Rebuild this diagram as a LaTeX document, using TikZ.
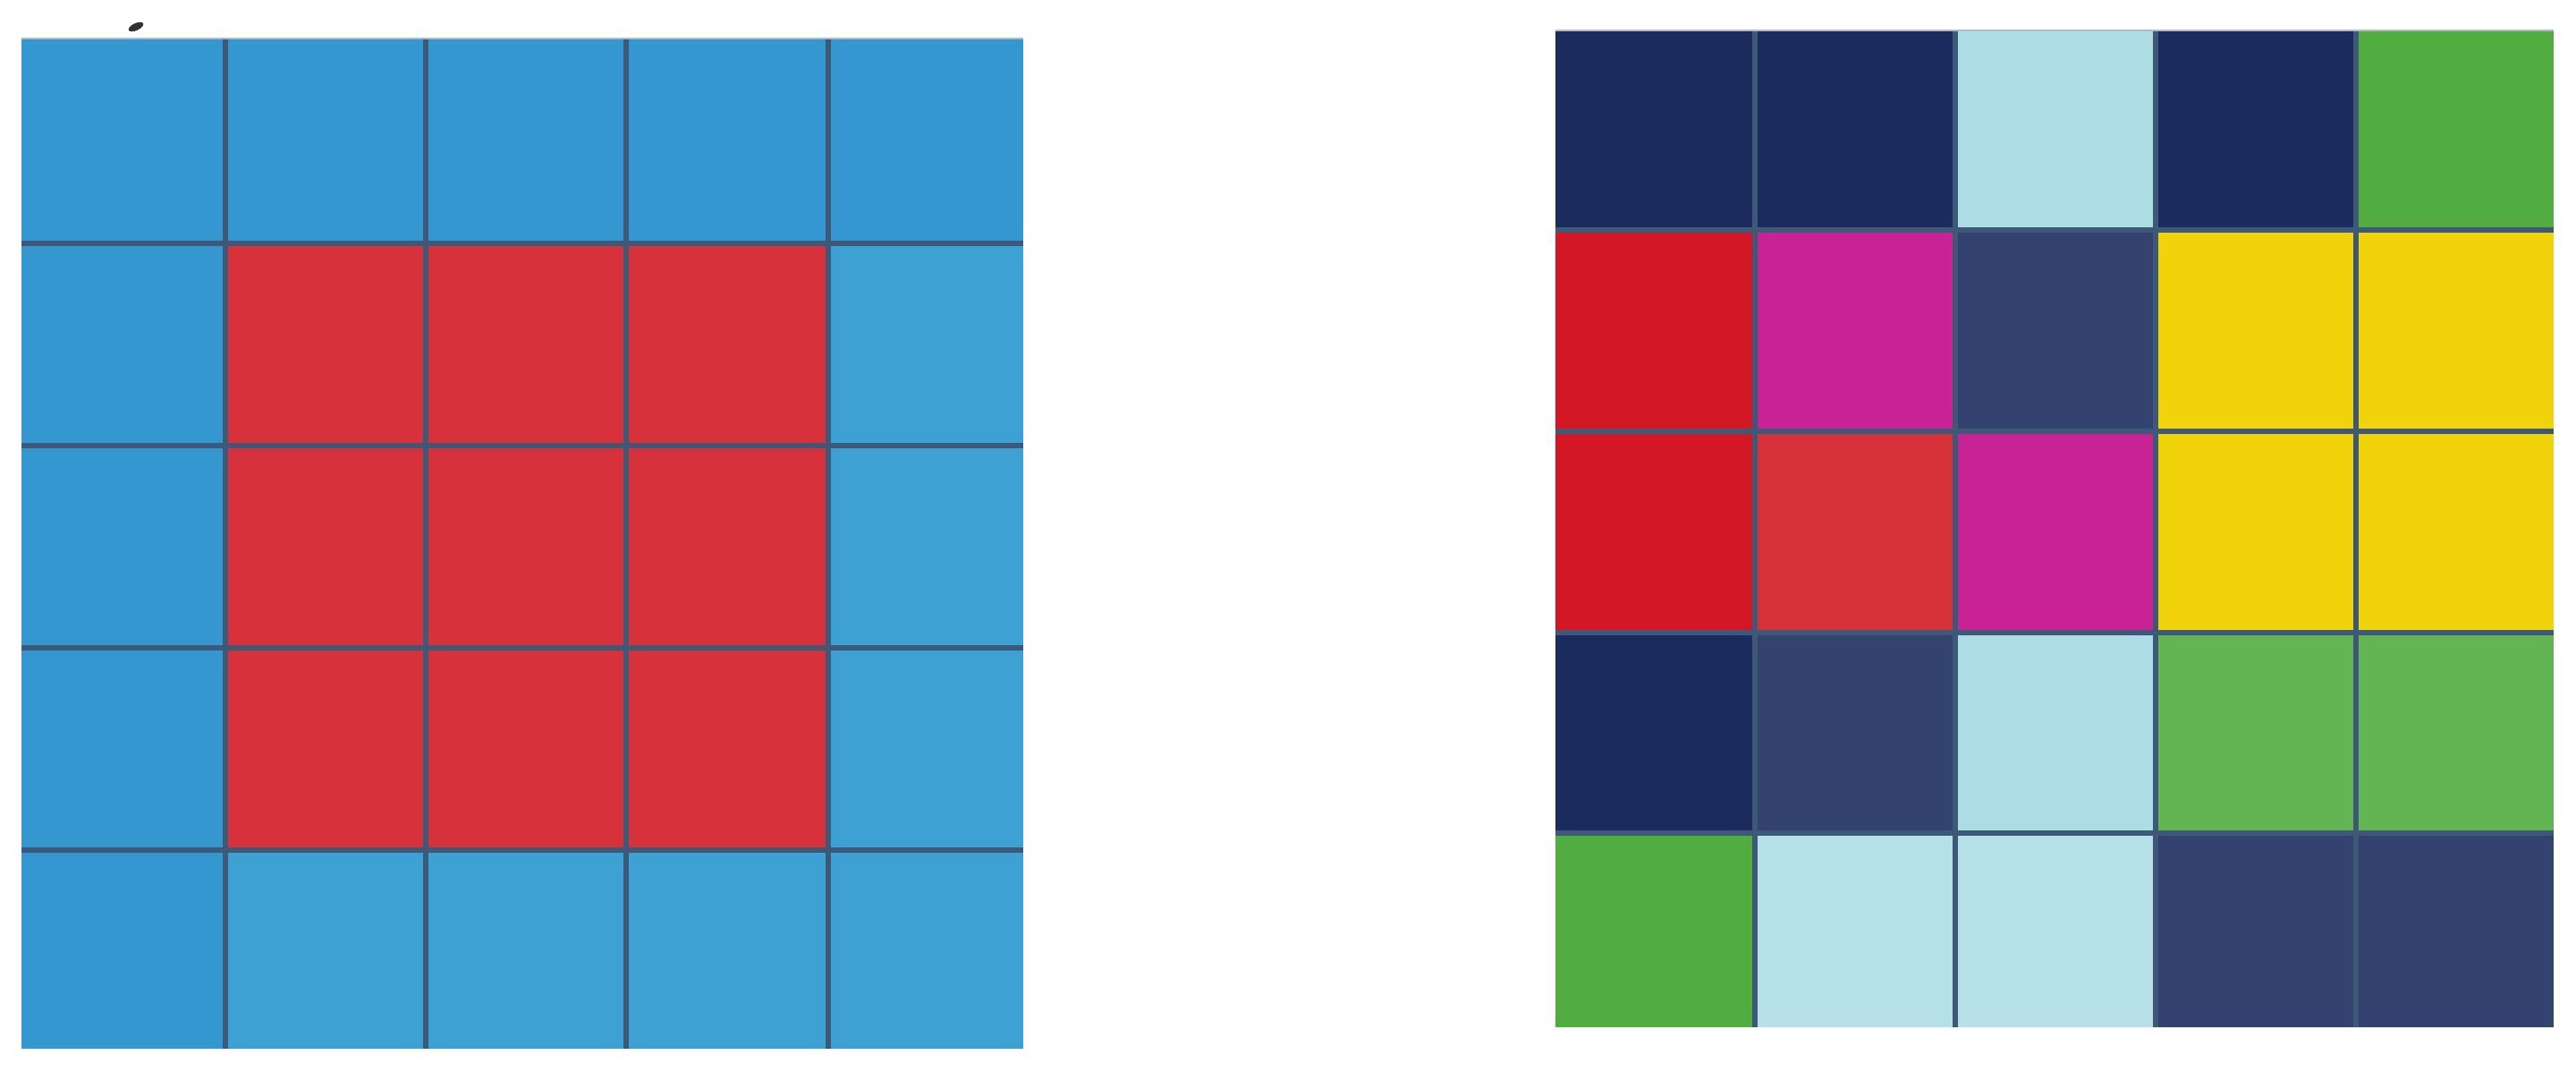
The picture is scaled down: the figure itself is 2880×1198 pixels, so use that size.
\documentclass[tikz,border=0pt]{standalone}
\definecolor{bluedark}{HTML}{3497D0}
\definecolor{bluelight}{HTML}{3DA1D4}
\definecolor{redL}{HTML}{D7313C}
\definecolor{navy}{HTML}{1C2B5E}
\definecolor{lcyan}{HTML}{ACDDE4}
\definecolor{lcyanB}{HTML}{B5E0E7}
\definecolor{greenA}{HTML}{52AD41}
\definecolor{greenB}{HTML}{63B553}
\definecolor{redA}{HTML}{D31724}
\definecolor{redB}{HTML}{D73139}
\definecolor{magentaA}{HTML}{C92294}
\definecolor{slate}{HTML}{34426F}
\definecolor{yellowA}{HTML}{F0D30A}
\definecolor{gridline}{HTML}{3E5877}
\tikzset{gridrule/.style={draw=gridline,line width=0.06cm},
         edgerule/.style={draw=gridline!40,line width=0.02cm}}
\begin{document}
\begin{tikzpicture}[x=0.01cm,y=-0.01cm]
\useasboundingbox (0,0) rectangle (2880,1198);
\fill[white] (0,0) rectangle (2880,1198);
\def\LX{{24,252,476,700,926,1144}}
\def\LY{{44,272,498,724,950,1172}}
\def\RX{{1739,1962,2186,2410,2634,2855}}
\def\RY{{35,257,482,707,931,1148}}
% left grid cells
\foreach \c [count=\k from 0] in {bluedark,bluedark,bluedark,bluedark,bluedark,
  bluedark,redL,redL,redL,bluelight,
  bluedark,redL,redL,redL,bluelight,
  bluedark,redL,redL,redL,bluelight,
  bluedark,bluelight,bluelight,bluelight,bluelight}{
  \pgfmathtruncatemacro\i{mod(\k,5)}
  \pgfmathtruncatemacro\j{div(\k,5)}
  \pgfmathsetmacro\xa{\LX[\i]}
  \pgfmathsetmacro\xb{\LX[\i+1]}
  \pgfmathsetmacro\ya{\LY[\j]}
  \pgfmathsetmacro\yb{\LY[\j+1]}
  \fill[fill=\c] (\xa,\ya) rectangle (\xb,\yb);
}
% right grid cells
\foreach \c [count=\k from 0] in {navy,navy,lcyan,navy,greenA,
  redA,magentaA,slate,yellowA,yellowA,
  redA,redB,magentaA,yellowA,yellowA,
  navy,slate,lcyan,greenB,greenB,
  greenA,lcyanB,lcyanB,slate,slate}{
  \pgfmathtruncatemacro\i{mod(\k,5)}
  \pgfmathtruncatemacro\j{div(\k,5)}
  \pgfmathsetmacro\xa{\RX[\i]}
  \pgfmathsetmacro\xb{\RX[\i+1]}
  \pgfmathsetmacro\ya{\RY[\j]}
  \pgfmathsetmacro\yb{\RY[\j+1]}
  \fill[fill=\c] (\xa,\ya) rectangle (\xb,\yb);
}
% internal grid lines
\foreach \i in {1,...,4}{
  \pgfmathsetmacro\xx{\LX[\i]}
  \pgfmathsetmacro\yy{\LY[\i]}
  \draw[gridrule] (\xx,44) -- (\xx,1172);
  \draw[gridrule] (24,\yy) -- (1144,\yy);
  \pgfmathsetmacro\xr{\RX[\i]}
  \pgfmathsetmacro\yr{\RY[\i]}
  \draw[gridrule] (\xr,35) -- (\xr,1148);
  \draw[gridrule] (1739,\yr) -- (2855,\yr);
}
% faint top edges
\draw[edgerule] (24,43) -- (1144,43);
\draw[edgerule] (1739,34) -- (2855,34);
% small stray mark above left grid
\fill[black!80, rotate around={25:(152,30)}] (152,30) ellipse (9 and 4);
\end{tikzpicture}
\end{document}
